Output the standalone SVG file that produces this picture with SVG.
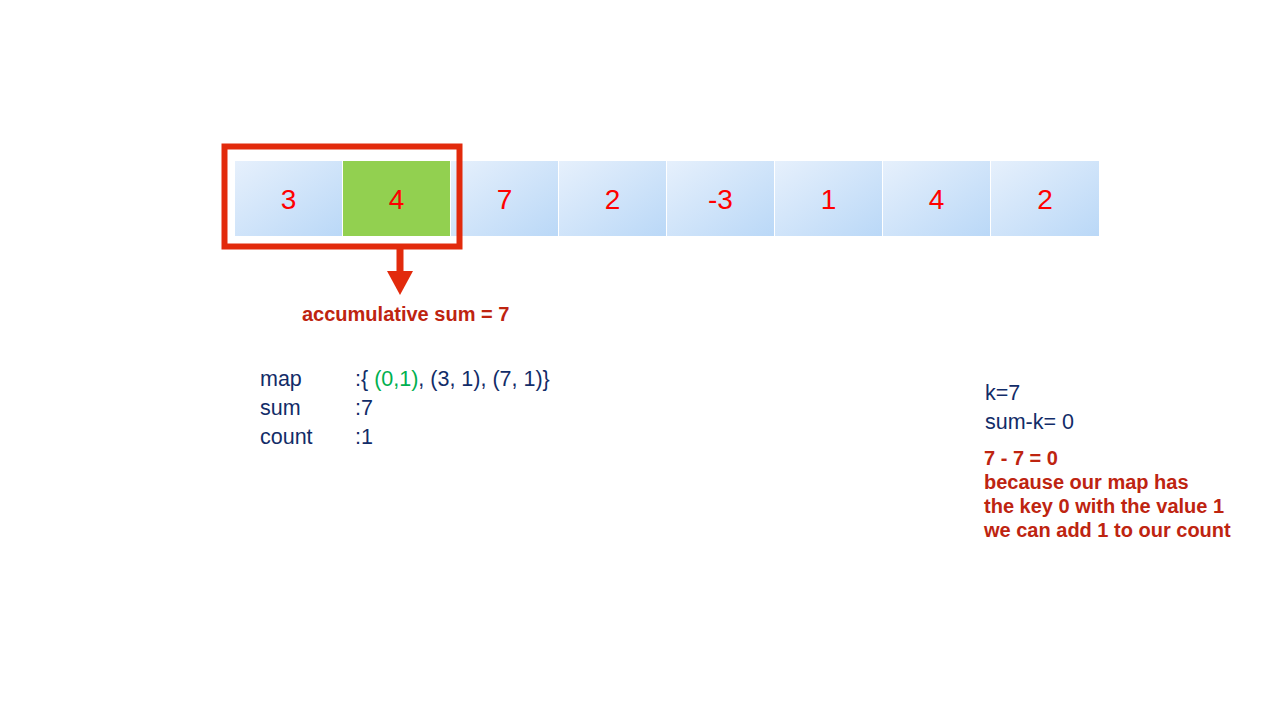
<svg xmlns="http://www.w3.org/2000/svg" width="1280" height="720" viewBox="0 0 1280 720">
<defs>
<linearGradient id="cellGrad" x1="0" y1="0" x2="1" y2="1">
<stop offset="0" stop-color="#E6F0FC"/>
<stop offset="1" stop-color="#BAD8F7"/>
</linearGradient>
<style>
.cell{fill:url(#cellGrad);}
.num{font-family:"Liberation Sans",Arial,sans-serif;font-size:28px;fill:#FF0000;text-anchor:middle;}
.navy{font-family:"Liberation Sans",Arial,sans-serif;font-size:21.5px;fill:#122C68;}
.green{fill:#00B050;}
.note{font-family:"Liberation Sans",Arial,sans-serif;font-size:20px;font-weight:bold;fill:#BE2410;}
</style>
</defs>
<rect width="1280" height="720" fill="#FFFFFF"/>
<g id="array">
<g id="cell0"><rect class="cell" x="235" y="161" width="107" height="75"/><text class="num" x="288.5" y="209">3</text></g>
<g id="cell1"><rect x="343" y="161" width="107" height="75" fill="#92D050"/><text class="num" x="396.5" y="209">4</text></g>
<g id="cell2"><rect class="cell" x="451" y="161" width="107" height="75"/><text class="num" x="504.5" y="209">7</text></g>
<g id="cell3"><rect class="cell" x="559" y="161" width="107" height="75"/><text class="num" x="612.5" y="209">2</text></g>
<g id="cell4"><rect class="cell" x="667" y="161" width="107" height="75"/><text class="num" x="720.5" y="209">-3</text></g>
<g id="cell5"><rect class="cell" x="775" y="161" width="107" height="75"/><text class="num" x="828.5" y="209">1</text></g>
<g id="cell6"><rect class="cell" x="883" y="161" width="107" height="75"/><text class="num" x="936.5" y="209">4</text></g>
<g id="cell7"><rect class="cell" x="991" y="161" width="108" height="75"/><text class="num" x="1045" y="209">2</text></g>
</g>
<g id="window">
<rect x="224.5" y="146.5" width="235" height="100" fill="none" stroke="#E22A0C" stroke-width="6"/>
</g>
<g id="connectors">
<rect x="396.5" y="249" width="7" height="23" fill="#E22A0C"/>
<polygon points="387,271 413,271 400,295" fill="#E22A0C"/>
</g>
<g id="sumLabel">
<text class="note" x="302" y="321">accumulative sum = 7</text>
</g>
<g id="state">
<text class="navy" x="260" y="386">map</text>
<text class="navy" x="355" y="386">:{ <tspan class="green">(0,1)</tspan>, (3, 1), (7, 1)}</text>
<text class="navy" x="260" y="415">sum</text>
<text class="navy" x="355" y="415">:7</text>
<text class="navy" x="260" y="444">count</text>
<text class="navy" x="355" y="444">:1</text>
</g>
<g id="explain">
<text class="navy" x="985" y="400">k=7</text>
<text class="navy" x="985" y="429">sum-k= 0</text>
<text class="note" x="984" y="465">7 - 7 = 0</text>
<text class="note" x="984" y="489">because our map has</text>
<text class="note" x="984" y="513">the key 0 with the value 1</text>
<text class="note" x="984" y="537">we can add 1 to our count</text>
</g>
</svg>
